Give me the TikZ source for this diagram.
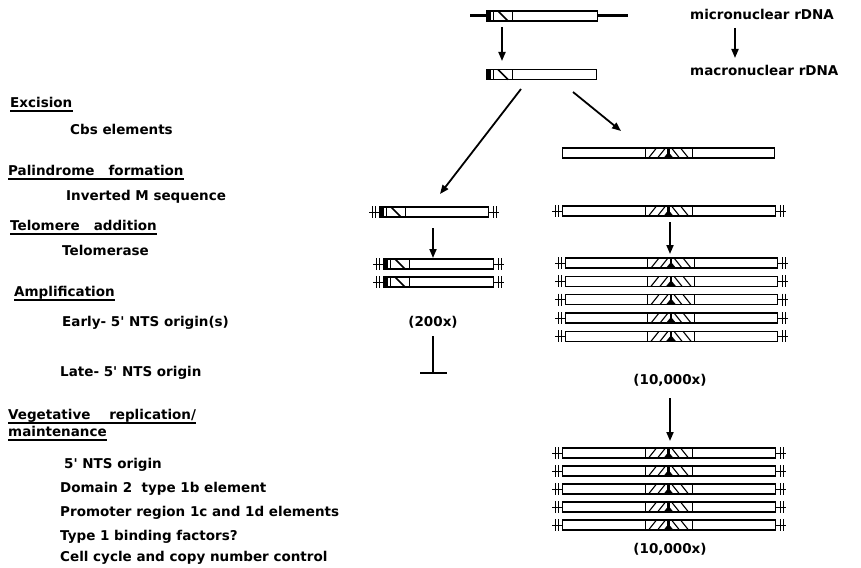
\documentclass[tikz,border=0pt]{standalone}
\usepackage{fontspec}
\setmainfont{DejaVu Sans}[BoldFont={DejaVu Sans Bold}]
\usetikzlibrary{arrows.meta}
\newcommand\sq{\textquotesingle}
\begin{document}
\begin{tikzpicture}[x=1pt,y=-1pt,
  bar/.style={draw, line width=1.2pt, fill=white, minimum height=10pt, inner sep=0pt, anchor=west},
  arr/.style={line width=1.8pt, -{Triangle[length=9pt,width=7pt]}},
  lbl/.style={anchor=west, inner sep=0pt, text height=9.5pt, text depth=2.5pt, font=\bfseries\fontsize{13.5}{15}\selectfont},
  cnt/.style={inner sep=0pt, font=\bfseries\fontsize{13.5}{15}\selectfont},
  uline/.style={line width=1.6pt},
  endhatch/.pic={
    \fill (0,-5) rectangle (4.5,5);
    \draw[line width=1pt] (7.5,-5) -- (7.5,5);
    \draw[line width=1.6pt] (12,-5) -- (22,5);
    \draw[line width=1pt] (26,-5) -- (26,5);
  },
  palin/.pic={
    \draw[line width=1pt] (-23.5,-5) -- (-23.5,5) (23.5,-5) -- (23.5,5);
    \draw[line width=1.1pt] (-20,5) -- (-12,-5) (-11,5) -- (-3,-5);
    \draw[line width=1.1pt] (20,5) -- (12,-5) (11,5) -- (3,-5);
    \fill (-1.4,-5) rectangle (1.4,5);
    \fill (-5,5) -- (0,-1) -- (5,5) -- cycle;
  },
  telL/.pic={
    \draw[line width=1pt] (-10,0) -- (0,0) (-7,-6) -- (-7,6) (-4,-6) -- (-4,6);
  },
  telR/.pic={
    \draw[line width=1pt] (0,0) -- (10,0) (4,-6) -- (4,6) (7,-6) -- (7,6);
  }
]
\useasboundingbox (0,0) rectangle (861,567);

% ---------- left text column ----------
\node[lbl] (t1) at (10,104) {Excision};
\node[lbl] (t2) at (70,131) {Cbs elements};
\node[lbl] (t3) at (8,172) {Palindrome\ \ \ formation};
\node[lbl] (t4) at (66,197) {Inverted M sequence};
\node[lbl] (t5) at (10,227) {Telomere\ \ \ addition};
\node[lbl] (t6) at (62,252) {Telomerase};
\node[lbl] (t7) at (14,293) {Amplification};
\node[lbl] (t8) at (62,323) {Early- 5\sq{} NTS origin(s)};
\node[lbl] (t9) at (60,373) {Late- 5\sq{} NTS origin};
\node[lbl] (t10) at (8,416) {Vegetative\ \ \ \ replication/};
\node[lbl] (t11) at (8,433) {maintenance};
\node[lbl] (t12) at (64,465) {5\sq{} NTS origin};
\node[lbl] (t13) at (60,489) {Domain 2\ \ type 1b element};
\node[lbl] (t14) at (60,513) {Promoter region 1c and 1d elements};
\node[lbl] (t15) at (60,537) {Type 1 binding factors?};
\node[lbl] (t16) at (60,558) {Cell cycle and copy number control};
\foreach \t in {t1,t3,t5,t7,t10,t11}{
  \draw[uline] ([yshift=-1pt]\t.south west) -- ([yshift=-1pt]\t.south east);
}

% ---------- legend top right ----------
\node[lbl] (mic) at (690,16) {micronuclear rDNA};
\node[lbl] (mac) at (690,72) {macronuclear rDNA};
\coordinate (la) at (735,28);
\coordinate (lb) at (735,58);
\draw[arr] (la) -- (lb);

% ---------- micronuclear ----------
\draw[line width=3pt] (470,16) -- (628,16);
\node[bar, minimum width=111pt] (micro) at (486,16) {};
\pic at (micro.west) {endhatch};

\coordinate (a1s) at (502,27);
\coordinate (a1e) at (502,61);
\draw[arr] (a1s) -- (a1e);

% ---------- macronuclear ----------
\node[bar, minimum width=110pt] (macro) at (486,74.5) {};
\pic at (macro.west) {endhatch};

\coordinate (dls) at (521,89);
\coordinate (dle) at (440,194);
\draw[arr] (dls) -- (dle);
\coordinate (drs) at (573,92);
\coordinate (dre) at (621,131);
\draw[arr] (drs) -- (dre);

% ---------- left branch ----------
\node[bar, minimum width=109pt] (lt) at (379,212) {};
\pic at (lt.west) {endhatch};
\pic at (lt.west) {telL};
\pic at (lt.east) {telR};

\coordinate (l2s) at (433,228);
\coordinate (l2e) at (433,258);
\draw[arr] (l2s) -- (l2e);

\foreach \i/\y in {1/264,2/282}{
  \node[bar, minimum width=110pt] (la\i) at (383,\y) {};
  \pic at (la\i.west) {endhatch};
  \pic at (la\i.west) {telL};
  \pic at (la\i.east) {telR};
}
\node[cnt] (c200) at (433,322) {(200x)};
\coordinate (ts) at (433,336);
\coordinate (te) at (433,373);
\coordinate (tl) at (420,373);
\coordinate (tr) at (447,373);
\draw[line width=1.8pt] (ts) -- (te);
\draw[line width=1.8pt] (tl) -- (tr);

% ---------- right branch ----------
\node[bar, minimum width=212pt] (pal) at (562,153) {};
\pic at (668.5,153) {palin};

\node[bar, minimum width=213pt] (rt) at (562,211) {};
\pic at (668.5,211) {palin};
\pic at (rt.west) {telL};
\pic at (rt.east) {telR};

\coordinate (r2s) at (670,222);
\coordinate (r2e) at (670,254);
\draw[arr] (r2s) -- (r2e);

\foreach \i/\y in {1/263,2/281.3,3/299.6,4/318,5/336.3}{
  \node[bar, minimum width=212pt] (ra\i) at (565,\y) {};
  \pic at (671,\y) {palin};
  \pic at (ra\i.west) {telL};
  \pic at (ra\i.east) {telR};
}
\node[cnt] (c10a) at (670,380) {(10,000x)};

\coordinate (r3s) at (670,398);
\coordinate (r3e) at (670,441);
\draw[arr] (r3s) -- (r3e);

\foreach \i/\y in {1/453,2/471,3/489,4/507,5/525}{
  \node[bar, minimum width=213pt] (rb\i) at (562,\y) {};
  \pic at (668.5,\y) {palin};
  \pic at (rb\i.west) {telL};
  \pic at (rb\i.east) {telR};
}
\node[cnt] (c10b) at (670,549) {(10,000x)};
\end{tikzpicture}
\end{document}
